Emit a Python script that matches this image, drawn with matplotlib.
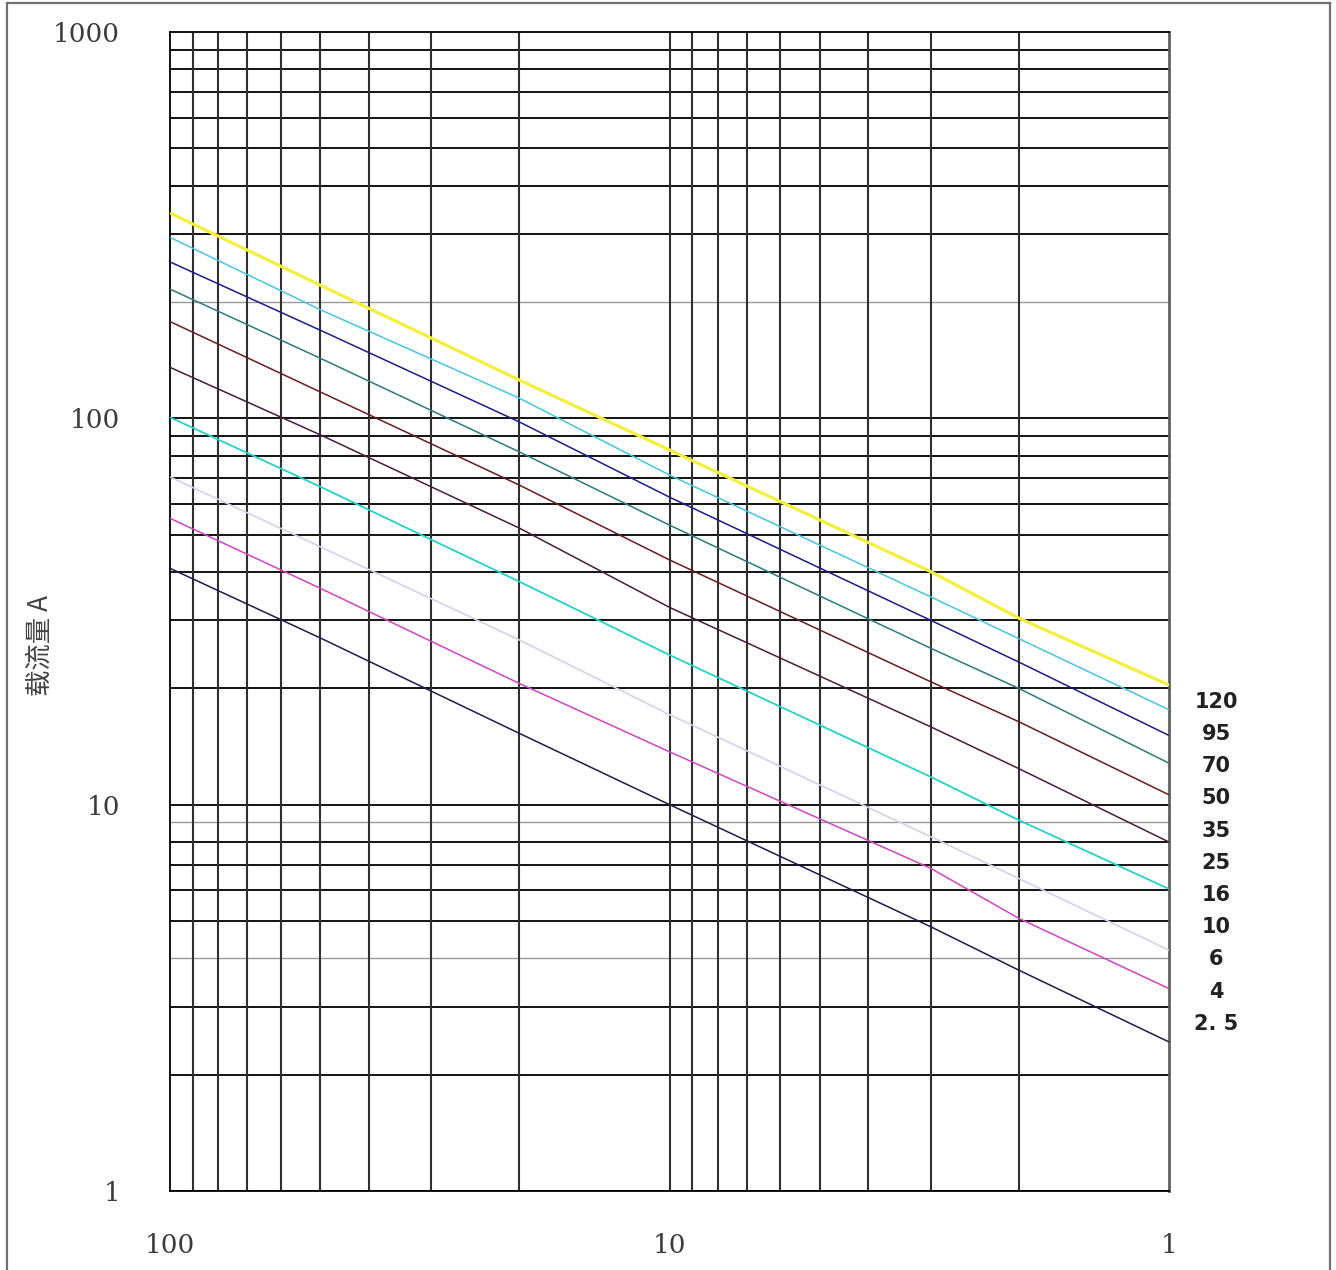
import matplotlib.pyplot as plt
from matplotlib.lines import Line2D

# ---------------------------------------------------------------------------
# data (log-log, x axis reversed)
# ---------------------------------------------------------------------------
x_pts = [100, 50, 20, 10, 3, 2, 1]

curve_yellow = [340, 221, 125.7, 82.8, 40.1, 30.4, 20.4]
curve_skyblue = [294, 191, 112.8, 71.3, 34.5, 26.9, 17.6]
curve_blue = [254, 169, 97.9, 62.5, 30.0, 23.4, 15.1]
curve_teal = [216, 143, 81.9, 52.9, 25.4, 20.0, 12.8]
curve_brown = [178, 117, 67.2, 43.0, 20.8, 16.4, 10.6]
curve_plum = [135.5, 90.6, 52.0, 32.4, 15.9, 12.4, 8.0]
curve_cyan = [100.6, 66.5, 37.8, 24.4, 11.8, 9.12, 6.05]
curve_lavender = [70.5, 46.5, 26.7, 17.1, 8.26, 6.44, 4.2]
curve_magenta = [55.1, 36.3, 20.6, 13.7, 6.84, 5.08, 3.34]
curve_navy = [40.9, 27.0, 15.3, 10.0, 4.83, 3.73, 2.43]

curves = [curve_yellow, curve_skyblue, curve_blue, curve_teal, curve_brown,
          curve_plum, curve_cyan, curve_lavender, curve_magenta, curve_navy]
colours = ["#f4ee3c", "#48c4e4", "#1c1c8a", "#2b7b82", "#6a1c1c",
           "#4a1c3c", "#22d2cc", "#d6d0ee", "#d244c4", "#1c1c52"]
widths = [2.3, 1.1, 1.1, 1.1, 1.1, 1.1, 1.3, 1.2, 1.1, 1.1]

section_labels = ["120", "95", "70", "50", "35", "25", "16", "10", "6", "4", "2. 5"]

y_ticks = [1, 10, 100, 1000]
x_ticks = [100, 10, 1]
grey_levels = [4, 9, 200]

# ---------------------------------------------------------------------------
fig = plt.figure(figsize=(13.36, 12.70), dpi=100)
ax = fig.add_axes([0.1273, 0.0622, 0.7478, 0.9126])

ax.set_xscale("log")
ax.set_yscale("log")
ax.set_xlim(100, 1)
ax.set_ylim(1, 1000)

# grid: every integer step of each decade
for dec in (1, 10, 100):
    for k in range(1, 10):
        v = k * dec
        if v in grey_levels:
            ax.axhline(v, color="#9a9a9a", lw=1.0, zorder=1)
        else:
            ax.axhline(v, color="black", lw=1.3, zorder=1)
for dec in (1, 10):
    for k in range(2, 10):
        ax.axvline(k * dec, color="#303030", lw=1.5, zorder=1)
ax.axvline(10, color="#303030", lw=1.5, zorder=1)

for ys, c, w in zip(curves, colours, widths):
    ax.plot(x_pts, ys, color=c, lw=w, zorder=3, solid_capstyle="butt")

for sp in ("top", "left", "bottom"):
    ax.spines[sp].set_color("black")
    ax.spines[sp].set_linewidth(1.3)
ax.spines["right"].set_color("#606060")
ax.spines["right"].set_linewidth(2.0)

ax.set_xticks(x_ticks)
ax.set_xticklabels([str(t) for t in x_ticks])
ax.set_yticks(y_ticks)
ax.set_yticklabels([str(t) for t in y_ticks])
ax.minorticks_off()
ax.tick_params(axis="both", length=0, labelsize=19, labelcolor="#3c3c3c")
ax.tick_params(axis="y", pad=36)
ax.tick_params(axis="x", pad=30)
for lab in ax.get_xticklabels() + ax.get_yticklabels():
    lab.set_family("DejaVu Serif")

# cross-section column at the right
y0, step = 0.4222, 0.0278
for i, s in enumerate(section_labels):
    ax.text(1.047, y0 - i * step, s, transform=ax.transAxes, ha="center",
            va="center", fontsize=15, fontweight="bold", color="#222222",
            family="DejaVu Sans")

fig.text(40 / 1336, 1 - 645 / 1270, "载流量 A", rotation=90, ha="center",
         va="center", fontsize=19, color="#444444",
         family=["Noto Sans CJK SC", "DejaVu Sans"])

# outer frame of the picture
frame = dict(color="#707070", lw=1.6, transform=fig.transFigure)
fig.add_artist(Line2D([7 / 1336, 7 / 1336], [0, 1 - 3 / 1270], **frame))
fig.add_artist(Line2D([7 / 1336, 1330 / 1336], [1 - 3 / 1270, 1 - 3 / 1270], **frame))
fig.add_artist(Line2D([1330 / 1336, 1330 / 1336], [0, 1 - 3 / 1270], **frame))

fig.savefig("out.png", dpi=100, facecolor="white")
